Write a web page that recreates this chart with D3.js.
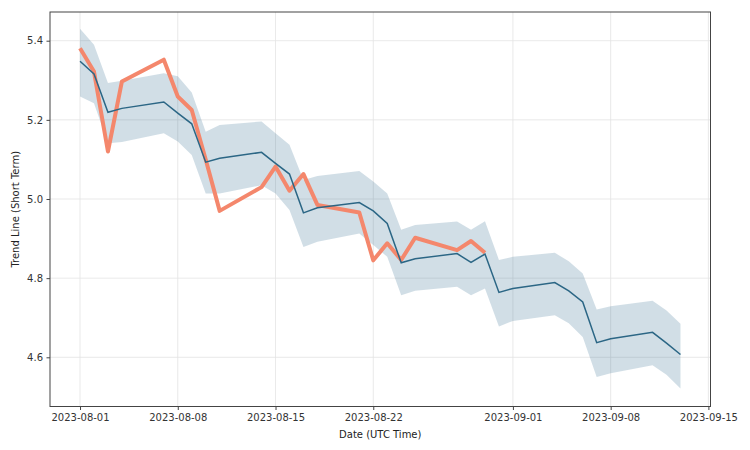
<!DOCTYPE html>
<html><head><meta charset="utf-8">
<script src="https://cdn.jsdelivr.net/npm/d3@7"></script>
<style>body{margin:0;background:#fff}svg{display:block;font-family:"DejaVu Sans",sans-serif}</style>
</head><body><svg id="c" width="750" height="450"></svg>
<script>
// Trend (forecast) dates and values
const trendDates = ["2023-08-01","2023-08-02","2023-08-03","2023-08-04","2023-08-07","2023-08-08","2023-08-09","2023-08-10","2023-08-11","2023-08-14","2023-08-15","2023-08-16","2023-08-17","2023-08-18","2023-08-21","2023-08-22","2023-08-23","2023-08-24","2023-08-25","2023-08-28","2023-08-29","2023-08-30","2023-08-31","2023-09-01","2023-09-04","2023-09-05","2023-09-06","2023-09-07","2023-09-08","2023-09-11","2023-09-12","2023-09-13"];
const trendValues = [5.348,5.316,5.219,5.229,5.245,5.217,5.190,5.093,5.103,5.118,5.090,5.063,4.965,4.978,4.991,4.970,4.938,4.839,4.849,4.862,4.840,4.861,4.764,4.774,4.789,4.768,4.740,4.637,4.647,4.663,4.636,4.607];
const upperValues = [5.430,5.390,5.293,5.299,5.318,5.310,5.269,5.170,5.187,5.196,5.166,5.137,5.048,5.058,5.071,5.044,5.014,4.922,4.934,4.943,4.922,4.944,4.846,4.854,4.864,4.843,4.812,4.721,4.729,4.743,4.718,4.685];
const lowerValues = [5.259,5.242,5.141,5.144,5.166,5.145,5.111,5.014,5.014,5.035,5.014,4.972,4.879,4.892,4.913,4.884,4.854,4.757,4.768,4.778,4.757,4.774,4.678,4.692,4.706,4.686,4.651,4.550,4.560,4.580,4.556,4.521];
// Actual price
const actualDates = ["2023-08-01","2023-08-02","2023-08-03","2023-08-04","2023-08-07","2023-08-08","2023-08-09","2023-08-10","2023-08-11","2023-08-14","2023-08-15","2023-08-16","2023-08-17","2023-08-18","2023-08-21","2023-08-22","2023-08-23","2023-08-24","2023-08-25","2023-08-28","2023-08-29","2023-08-30"];
const actualValues = [5.381,5.322,5.120,5.297,5.352,5.259,5.225,5.100,4.970,5.030,5.082,5.021,5.063,4.985,4.966,4.845,4.888,4.846,4.902,4.871,4.894,4.864];
const xTickLabels = ["2023-08-01","2023-08-08","2023-08-15","2023-08-22","2023-09-01","2023-09-08","2023-09-15"];
const yTicks = [4.6,4.8,5.0,5.2,5.4];

const parse = d3.utcParse("%Y-%m-%d");
const svg = d3.select("#c");
const L=50, T=12, R=710.5, B=406.5;
const DAY = 864e5;
const t0 = parse("2023-08-01").getTime();
const x = d3.scaleUtc().domain([new Date(t0-2.15*DAY), new Date(t0+45.15*DAY)]).range([L,R]);
const y = d3.scaleLinear().domain([4.4757,5.4725]).range([B,T]);

const trend = trendDates.map((d,i)=>({d:parse(d),v:trendValues[i],u:upperValues[i],l:lowerValues[i]}));
const actual = actualDates.map((d,i)=>({d:parse(d),v:actualValues[i]}));

// grid
const g = svg.append("g");
g.selectAll(".gx").data(xTickLabels).join("line")
 .attr("x1",d=>x(parse(d))).attr("x2",d=>x(parse(d))).attr("y1",T).attr("y2",B)
 .attr("stroke","#e3e3e3").attr("stroke-width",0.8);
g.selectAll(".gy").data(yTicks).join("line")
 .attr("x1",L).attr("x2",R).attr("y1",d=>y(d)).attr("y2",d=>y(d))
 .attr("stroke","#e3e3e3").attr("stroke-width",0.8);

// band
svg.append("path").datum(trend)
 .attr("d",d3.area().x(d=>x(d.d)).y0(d=>y(d.l)).y1(d=>y(d.u)))
 .attr("fill","#2f6b8e").attr("fill-opacity",0.22);
// actual
svg.append("path").datum(actual)
 .attr("d",d3.line().x(d=>x(d.d)).y(d=>y(d.v)))
 .attr("fill","none").attr("stroke","#f4876c").attr("stroke-width",4).attr("stroke-linejoin","round");
// trend
svg.append("path").datum(trend)
 .attr("d",d3.line().x(d=>x(d.d)).y(d=>y(d.v)))
 .attr("fill","none").attr("stroke","#2b6685").attr("stroke-width",1.5);

// axes
const xa = svg.append("g").attr("transform",`translate(0,${B})`)
 .call(d3.axisBottom(x).tickValues(xTickLabels.map(parse)).tickFormat(d3.utcFormat("%Y-%m-%d")).tickSize(3.5).tickPadding(3.5));
const ya = svg.append("g").attr("transform",`translate(${L},0)`)
 .call(d3.axisLeft(y).tickValues(yTicks).tickFormat(d3.format(".1f")).tickSize(3.5).tickPadding(3.5));
[xa,ya].forEach(a=>{a.select(".domain").remove();a.selectAll("text").attr("font-size",10).attr("fill","#333").attr("font-family","DejaVu Sans");a.selectAll("line").attr("stroke","#444");});
svg.append("rect").attr("x",L).attr("y",T).attr("width",R-L).attr("height",B-T).attr("fill","none").attr("stroke","#444").attr("stroke-width",1);

svg.append("text").attr("x",(L+R)/2).attr("y",438).attr("text-anchor","middle").attr("font-size",10).attr("fill","#222").text("Date (UTC Time)");
svg.append("text").attr("transform",`translate(19,${(T+B)/2}) rotate(-90)`).attr("text-anchor","middle").attr("font-size",10).attr("fill","#222").text("Trend Line (Short Term)");
</script></body></html>
